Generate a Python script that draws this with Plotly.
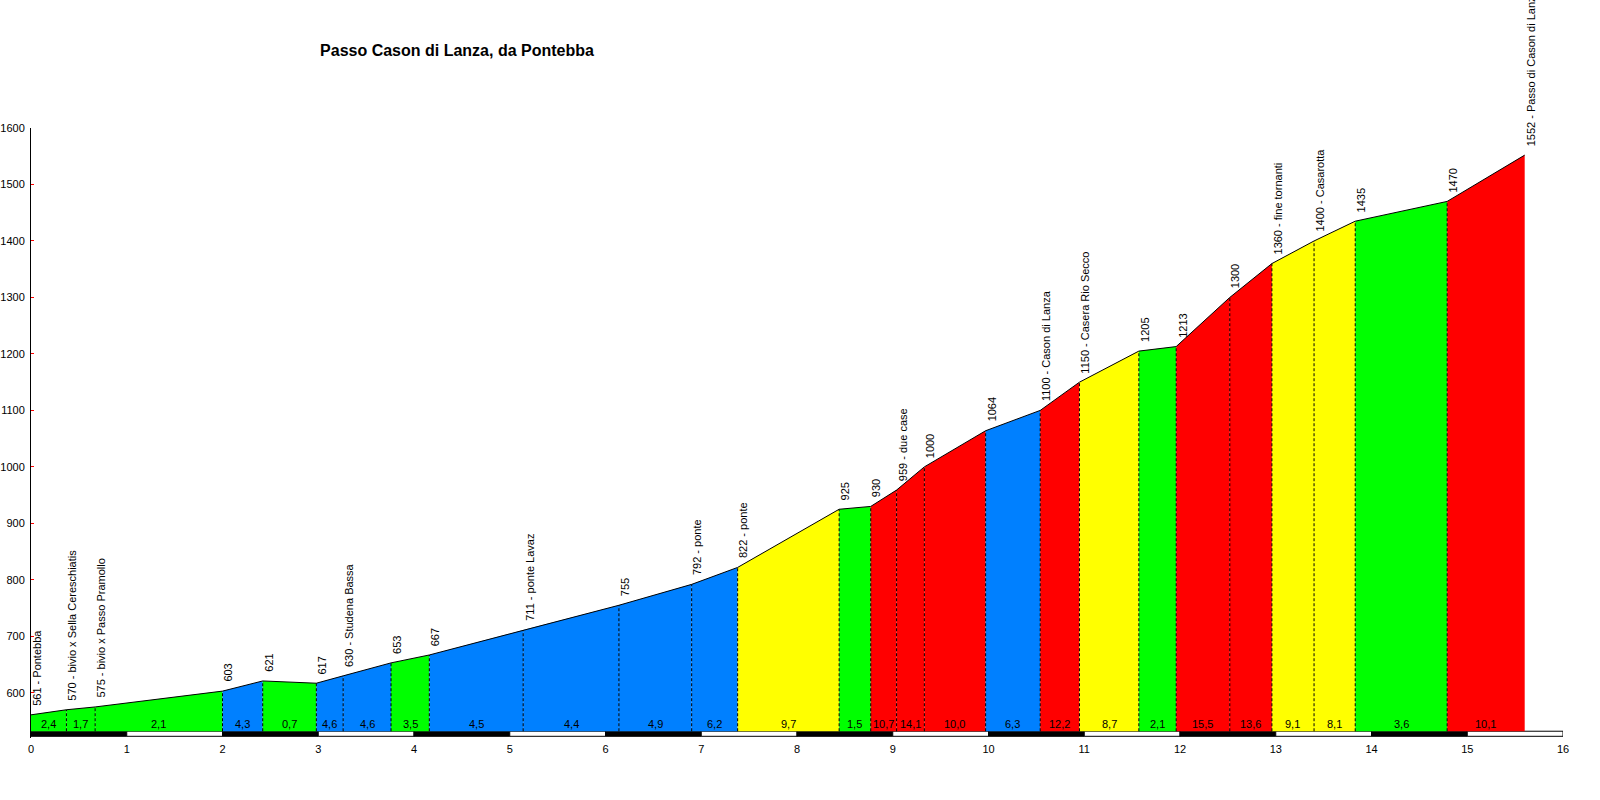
import plotly.graph_objects as go

# ---- data ----
km = [0.0, 0.37, 0.67, 2.0, 2.42, 2.98, 3.26, 3.76, 4.16, 5.14, 6.14, 6.9, 7.38,
      8.44, 8.77, 9.04, 9.33, 9.97, 10.54, 10.95, 11.57, 11.96, 12.52, 12.96,
      13.40, 13.83, 14.79, 15.6]
elev = [561, 570, 575, 603, 621, 617, 630, 653, 667, 711, 755, 792, 822,
        925, 930, 959, 1000, 1064, 1100, 1150, 1205, 1213, 1300, 1360,
        1400, 1435, 1470, 1552]
names = ["Pontebba", "bivio x Sella Cereschiatis", "bivio x Passo Pramollo", "", "", "",
         "Studena Bassa", "", "", "ponte Lavaz", "", "ponte", "ponte",
         "", "", "due case", "", "", "Cason di Lanza", "Casera Rio Secco", "", "", "", "fine tornanti",
         "Casarotta", "", "", "Passo di Cason di Lanza"]
grades = [2.4, 1.7, 2.1, 4.3, 0.7, 4.6, 4.6, 3.5, 4.5, 4.4, 4.9, 6.2, 9.7,
          1.5, 10.7, 14.1, 10.0, 6.3, 12.2, 8.7, 2.1, 15.5, 13.6, 9.1, 8.1, 3.6, 10.1]
km_ticks = list(range(0, 17))
y_ticks = [600, 700, 800, 900, 1000, 1100, 1200, 1300, 1400, 1500, 1600]
title = "Passo Cason di Lanza, da Pontebba"

BASE = 532
BAR_LOW = 523
FONT = "Liberation Sans, Arial, sans-serif"


def grade_color(g):
    if g < 4:
        return "#00FF00"
    if g < 7:
        return "#0080FF"
    if g < 10:
        return "#FFFF00"
    return "#FF0000"


fig = go.Figure()

# km scale bar (alternating black / white)
fig.add_trace(go.Bar(
    x=[k + 0.5 for k in km_ticks[:-1]],
    y=[BASE - BAR_LOW] * (len(km_ticks) - 1),
    base=BAR_LOW,
    width=1,
    marker=dict(color=["#000000" if k % 2 == 0 else "#FFFFFF" for k in km_ticks[:-1]],
                line=dict(color="#000000", width=1)),
    showlegend=False, hoverinfo="skip"))

# coloured segments
for i, g in enumerate(grades):
    x0, x1 = km[i], km[i + 1]
    z0, z1 = elev[i], elev[i + 1]
    fig.add_trace(go.Scatter(
        x=[x0, x0, x1, x1, x0], y=[BASE, z0, z1, BASE, BASE],
        fill="toself", fillcolor=grade_color(g), mode="lines",
        line=dict(width=0, color=grade_color(g)),
        showlegend=False, hoverinfo="skip"))

# dashed separators
sx, sy = [], []
for i in range(1, len(km) - 1):
    sx += [km[i], km[i], None]
    sy += [BASE, elev[i], None]
fig.add_trace(go.Scatter(x=sx, y=sy, mode="lines",
                         line=dict(color="black", width=1, dash="3px,2px"),
                         showlegend=False, hoverinfo="skip"))

# profile outline
fig.add_trace(go.Scatter(x=km, y=elev, mode="lines",
                         line=dict(color="black", width=1),
                         showlegend=False, hoverinfo="skip"))

annotations = []
# elevation / place labels
for x, z, n in zip(km, elev, names):
    txt = f"{z} - {n}" if n else f"{z}"
    annotations.append(dict(x=x, y=z, xref="x", yref="y", text=txt, showarrow=False,
                            textangle=-90, xanchor="center", yanchor="bottom",
                            xshift=6, yshift=7,
                            font=dict(family=FONT, size=11, color="black")))
# gradient labels
for i, g in enumerate(grades):
    annotations.append(dict(x=(km[i] + km[i + 1]) / 2, y=545, xref="x", yref="y",
                            text=f"{g:.1f}".replace(".", ","), showarrow=False,
                            xanchor="center", yanchor="middle",
                            font=dict(family=FONT, size=11, color="black")))

fig.update_layout(
    width=1600, height=800,
    margin=dict(l=31, r=37, t=128, b=62),
    paper_bgcolor="white", plot_bgcolor="white",
    title=dict(text=f"<b>{title}</b>", x=457 / 1600, xanchor="center",
               y=1 - 50 / 800, yanchor="middle",
               font=dict(family=FONT, size=16, color="black")),
    annotations=annotations,
    bargap=0,
    hovermode=False,
    xaxis=dict(range=[0, 16], tickvals=km_ticks, ticktext=[str(k) for k in km_ticks],
               showgrid=False, zeroline=False, showline=False, ticks="",
               ticklabelstandoff=3,
               tickfont=dict(family=FONT, size=11, color="black"), automargin=False),
    yaxis=dict(range=[520, 1600], tickvals=y_ticks, showgrid=False, zeroline=False,
               showline=True, linecolor="black", linewidth=1,
               ticks="inside", ticklen=3, tickcolor="red", tickwidth=1,
               ticklabelstandoff=3,
               tickfont=dict(family=FONT, size=11, color="black"), automargin=False),
)

fig.write_html("out.html",
               config={"displayModeBar": False, "staticPlot": True},
               post_script="document.body.style.margin='0';document.body.style.overflow='hidden';")
